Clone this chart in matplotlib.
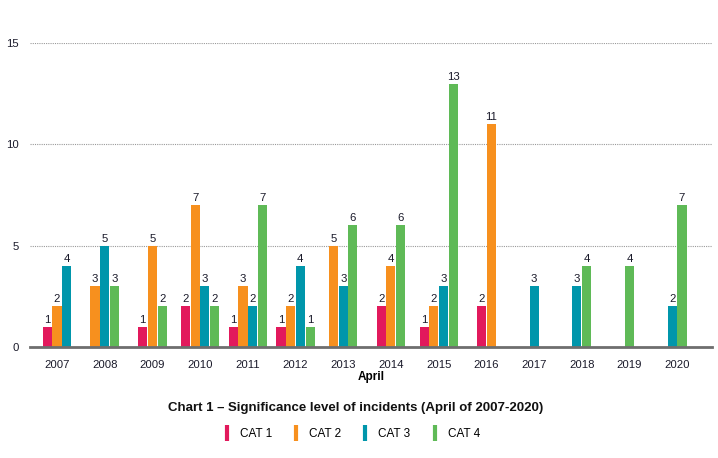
import numpy as np
import matplotlib.pyplot as plt
from matplotlib.lines import Line2D

plt.rcParams['font.family'] = ['Liberation Sans', 'DejaVu Sans']

years = ['2007', '2008', '2009', '2010', '2011', '2012', '2013',
         '2014', '2015', '2016', '2017', '2018', '2019', '2020']
cat1 = [1, 0, 1, 2, 1, 1, 0, 2, 1, 2, 0, 0, 0, 0]
cat2 = [2, 3, 5, 7, 3, 2, 5, 4, 2, 11, 0, 0, 0, 0]
cat3 = [4, 5, 0, 3, 2, 4, 3, 0, 3, 0, 3, 3, 0, 2]
cat4 = [0, 3, 2, 2, 7, 1, 6, 6, 13, 0, 0, 4, 4, 7]
cat_names = ['CAT 1', 'CAT 2', 'CAT 3', 'CAT 4']
colors = ['#E2195C', '#F7901E', '#0096AB', '#5FBA57']

series = [cat1, cat2, cat3, cat4]
fig = plt.figure(figsize=(7.18, 4.58), dpi=100)
ax = fig.add_axes([30 / 718, 1 - 347 / 458, 682 / 718, 304 / 458])

width = 0.19
step = 0.203
x = np.arange(len(years))
for i in range(len(years)):
    # only categories with incidents are drawn, packed around the year
    present = [k for k in range(4) if series[k][i] > 0]
    n = len(present)
    for j, k in enumerate(present):
        pos = x[i] + (j - (n - 1) / 2) * step
        v = series[k][i]
        ax.bar(pos, v, width=width, color=colors[k], zorder=3)
        ax.text(pos, v + 0.1, str(v), ha='center', va='bottom',
                fontsize=8.2, color='#1a1a2a', zorder=4)

ax.set_xlim(-0.566, 13.73)
ax.set_ylim(0, 15)
ax.set_yticks([0, 5, 10, 15])
ax.set_xticks(x)
ax.set_xticklabels(years)
ax.tick_params(axis='both', length=0, labelsize=8.2, colors='#1a1a2a')
ax.tick_params(axis='y', pad=8)
ax.tick_params(axis='x', pad=9)
for s in ['top', 'right', 'left']:
    ax.spines[s].set_visible(False)
ax.spines['bottom'].set_color('#6e6e6e')
ax.spines['bottom'].set_linewidth(2)
ax.spines['bottom'].set_zorder(5)
ax.yaxis.grid(True, linestyle=(0, (1, 1)), color='#9a9a9a', linewidth=0.8)
ax.set_axisbelow(True)

ax.set_xlabel('April', fontsize=8.5, fontweight='bold', labelpad=1)

fig.text(0.495, 1 - 408 / 458, 'Chart 1 \u2013 Significance level of incidents (April of 2007-2020)',
         ha='center', va='center', fontsize=9.5, fontweight='bold', color='#111111')

handles = [Line2D([], [], marker='|', markersize=12, markeredgewidth=3,
                  linestyle='None', color=c) for c in colors]
fig.legend(handles, cat_names, loc='center', bbox_to_anchor=(0.487, 1 - 434 / 458),
           ncol=4, frameon=False, fontsize=8.5, handlelength=1.2,
           columnspacing=1.45, handletextpad=0.5)

fig.savefig('out.png', dpi=100)
